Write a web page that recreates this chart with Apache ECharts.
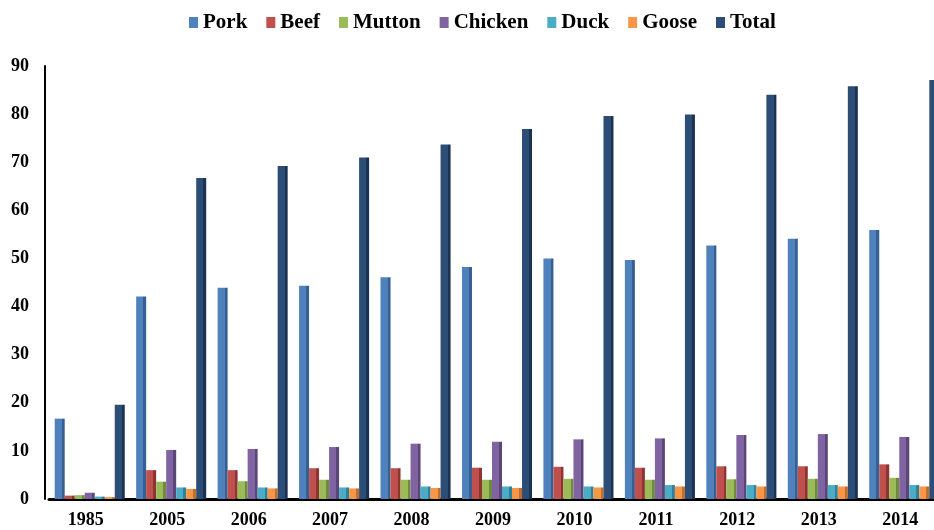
<!DOCTYPE html>
<html>
<head>
<meta charset="utf-8">
<script src="https://cdn.jsdelivr.net/npm/echarts@6/dist/echarts.min.js"></script>
<style>
html,body{margin:0;padding:0;background:#fff;overflow:hidden}
#main{width:950px;height:530px}
</style>
</head>
<body>
<div id="main"></div>
<script>
const years=['1985','2005','2006','2007','2008','2009','2010','2011','2012','2013','2014']
const seriesNames=['Pork','Beef','Mutton','Chicken','Duck','Goose','Total']
const pork=[16.7,42.1,43.9,44.3,46.1,48.2,50.0,49.7,52.7,54.1,55.9]
const beef=[0.7,6.0,6.0,6.4,6.4,6.5,6.7,6.5,6.8,6.8,7.2]
const mutton=[0.8,3.6,3.7,4.0,4.0,4.0,4.2,4.0,4.1,4.2,4.4]
const chicken=[1.3,10.2,10.4,10.8,11.5,11.9,12.4,12.6,13.3,13.5,12.9]
const duck=[0.5,2.4,2.4,2.4,2.6,2.6,2.6,2.9,2.9,2.9,2.9]
const goose=[0.4,2.1,2.2,2.2,2.3,2.3,2.4,2.6,2.6,2.6,2.6]
const total=[19.6,66.7,69.2,71.0,73.7,76.9,79.6,79.9,84.0,85.8,87.1]
const yTicks=[0,10,20,30,40,50,60,70,80,90]

const colors=['#4F81BD','#C0504D','#9BBB59','#8064A2','#4BACC6','#F79646','#2C4D75']
const sides=['#36608f','#8e3431','#6f8a3c','#5b4678','#31809a','#c06e2c','#1b3252']
const font='"Liberation Serif","Times New Roman",serif'

// canvas is a bit wider than the window so the last category gets cut off like the original
const chart=echarts.init(document.getElementById('main'))

const makeSeries=(name,data,i)=>{
	return {
		name:name,
		type:'bar',
		data:data,
		barGap:'0%',
		barCategoryGap:'14%',
		itemStyle:{
			color:new echarts.graphic.LinearGradient(0,0,1,0,[
				{offset:0,color:colors[i]},
				{offset:0.72,color:colors[i]},
				{offset:0.72,color:sides[i]},
				{offset:1,color:sides[i]}
			])
		}
	}
}

chart.setOption({
	animation:false,
	color:colors,
	legend:{
		top:7,
		left:184,
		icon:'rect',
		itemWidth:9,
		itemHeight:11,
		itemGap:19,
		itemTextGap:5,
		textStyle:{
			fontFamily:font,
			fontWeight:'bold',
			fontSize:21,
			color:'#000'
		},
		data:seriesNames.map((n,i)=>({name:n,itemStyle:{color:colors[i]}}))
	},
	grid:{
		left:49,
		width:896,
		top:66,
		bottom:31,
		containLabel:false
	},
	xAxis:{
		type:'category',
		data:years,
		axisLine:{lineStyle:{color:'#000',width:3}},
		axisTick:{show:false},
		axisLabel:{
			margin:12,
			padding:[0,8,0,0],
			fontFamily:font,
			fontWeight:'bold',
			fontSize:18,
			color:'#000'
		}
	},
	yAxis:{
		type:'value',
		min:yTicks[0],
		max:yTicks[yTicks.length-1],
		interval:10,
		offset:4,
		axisLine:{show:true,lineStyle:{color:'#000',width:2}},
		axisTick:{show:false},
		splitLine:{show:false},
		axisLabel:{
			margin:16,
			fontFamily:font,
			fontWeight:'bold',
			fontSize:18,
			color:'#000'
		}
	},
	series:[
		makeSeries('Pork',pork,0),
		makeSeries('Beef',beef,1),
		makeSeries('Mutton',mutton,2),
		makeSeries('Chicken',chicken,3),
		makeSeries('Duck',duck,4),
		makeSeries('Goose',goose,5),
		makeSeries('Total',total,6)
	]
})
</script>
</body>
</html>
